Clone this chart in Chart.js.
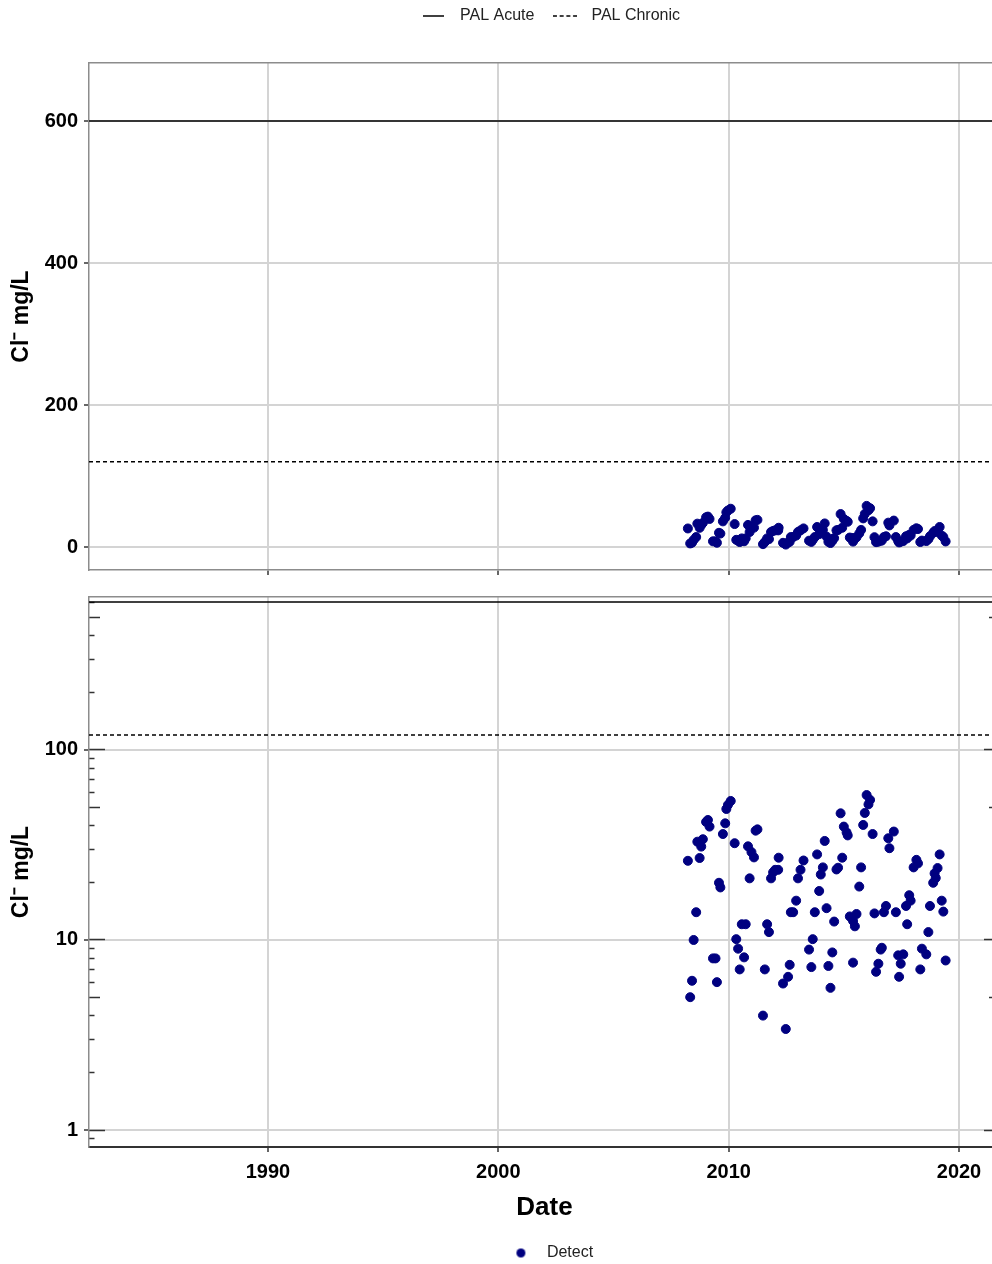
<!DOCTYPE html>
<html>
<head>
<meta charset="utf-8">
<title>Chloride concentrations</title>
<script src="https://cdn.jsdelivr.net/npm/chart.js@4/dist/chart.umd.min.js"></script>
<style>
  html, body { margin: 0; padding: 0; background: #fff; overflow: hidden; }
  #wrap { position: relative; width: 992px; height: 1264px; overflow: hidden; background: #fff; }
  #wrap canvas { position: absolute; left: 0; }
  #linearPanel { top: 0; }
  #logPanel { top: 590px; }
</style>
</head>
<body>
<div id="wrap">
  <canvas id="linearPanel" width="1010" height="590" style="width:1010px;height:590px"></canvas>
  <canvas id="logPanel" width="1010" height="674" style="width:1010px;height:674px"></canvas>
</div>
<script>
// Sampling dates (decimal years) and measured chloride, mg/L
const sampleDates = [
  2008.23, 2008.33, 2008.41, 2008.48, 2008.59, 2008.64, 2008.74, 2008.81, 2008.88, 2009.02,
  2009.10, 2009.17, 2009.32, 2009.43, 2009.49, 2009.58, 2009.64, 2009.75, 2009.85, 2009.90,
  2009.97, 2010.09, 2010.26, 2010.33, 2010.41, 2010.48, 2010.57, 2010.67, 2010.74, 2010.84,
  2010.91, 2010.99, 2011.10, 2011.17, 2011.25, 2011.49, 2011.57, 2011.67, 2011.75, 2011.84,
  2011.93, 2012.02, 2012.15, 2012.17, 2012.36, 2012.48, 2012.58, 2012.65, 2012.70, 2012.80,
  2012.93, 2013.01, 2013.12, 2013.25, 2013.49, 2013.59, 2013.65, 2013.74, 2013.84, 2013.93,
  2014.00, 2014.09, 2014.17, 2014.25, 2014.33, 2014.42, 2014.50, 2014.58, 2014.68, 2014.75,
  2014.86, 2014.93, 2015.00, 2015.12, 2015.17, 2015.26, 2015.40, 2015.40, 2015.48, 2015.55,
  2015.67, 2015.75, 2015.84, 2015.91, 2015.99, 2016.07, 2016.14, 2016.25, 2016.33, 2016.40,
  2016.50, 2016.60, 2016.65, 2016.74, 2016.83, 2016.93, 2016.98, 2017.17, 2017.26, 2017.36,
  2017.40, 2017.47, 2017.58, 2017.70, 2017.75, 2017.84, 2017.90, 2018.03, 2018.15, 2018.22,
  2018.32, 2018.39, 2018.58, 2018.67, 2018.74, 2018.88, 2018.94, 2018.99, 2019.07, 2019.16,
  2019.25, 2019.32, 2019.42
];
const chlorideMgL = [
  26.1, 5.0, 6.1, 10.0, 14.0, 32.9, 27.0, 31.0, 33.9, 41.8,
  42.8, 39.5, 8.0, 8.0, 6.0, 20.0, 18.9, 36.1, 41.1, 48.9,
  51.4, 53.9, 32.3, 10.1, 9.0, 7.0, 12.1, 8.1, 12.1, 31.1,
  21.1, 29.0, 27.2, 37.6, 38.2, 4.0, 7.0, 12.1, 11.0, 21.1,
  22.7, 23.4, 23.4, 27.1, 5.9, 3.4, 6.4, 7.4, 14.0, 14.0,
  16.1, 21.1, 23.4, 26.2, 8.9, 7.2, 10.1, 14.0, 28.2, 18.1,
  22.1, 24.1, 33.2, 14.7, 7.3, 5.6, 8.6, 12.5, 23.5, 24.0,
  46.4, 27.1, 39.5, 36.8, 35.5, 13.3, 12.6, 7.6, 11.8, 13.7,
  19.1, 24.1, 40.3, 46.6, 57.9, 51.7, 54.6, 36.1, 13.8, 6.8,
  7.5, 8.9, 9.1, 14.0, 15.1, 34.3, 30.4, 37.2, 14.0, 8.3,
  6.4, 7.5, 8.4, 15.1, 12.1, 17.2, 16.1, 24.1, 26.4, 25.3,
  7.0, 9.0, 8.4, 11.0, 15.1, 20.0, 22.4, 21.2, 23.9, 28.2,
  16.1, 14.1, 7.8
];

// Guideline levels (mg/L)
const palAcute = 600;
const palChronic = 120;

// Axis limits and tick values
const dateRange = [1982.23, 2021.78];
const yearTicks = [1990, 2000, 2010, 2020];
const linearRange = [-32.4, 681.7];
const linearTicks = [0, 200, 400, 600];
const logRange = [0.814, 638];
const logLongTicks = [1, 10, 100];
const logMidTicks = [5, 50, 500];
const logShortTicks = [0.9, 2, 3, 4, 6, 7, 8, 9, 20, 30, 40, 60, 70, 80, 90, 200, 300, 400, 600];

const FONT = "'Liberation Sans', Arial, sans-serif";
const NAVY = '#000080';
const GRID = '#d4d4d4';
const FRAME = '#8c8c8c';
const TICK = '#333333';
const yTitle = 'Cl\u207B mg/L';

const detectPoints = sampleDates.map((d, i) => ({ x: d, y: chlorideMgL[i] }));
const levelLine = v => [{ x: dateRange[0], y: v }, { x: dateRange[1], y: v }];

// scale helpers
const setTicks = values => scale => { scale.ticks = values.map(v => ({ value: v })); };
const fixWidth = w => s => { s.width = w; s.paddingTop = 0; s.paddingBottom = 0; };
const fixHeight = h => s => { s.height = h; s.paddingLeft = 0; s.paddingRight = 0; };

// small legend symbols
function lineSymbol(width, dash) {
  const c = document.createElement('canvas');
  c.width = width; c.height = 4;
  const g = c.getContext('2d');
  g.strokeStyle = '#000'; g.lineWidth = 1.5; g.setLineDash(dash);
  g.beginPath(); g.moveTo(0, 2); g.lineTo(width, 2); g.stroke();
  return c;
}
function dotSymbol(r) {
  const c = document.createElement('canvas');
  c.width = c.height = Math.ceil(2 * r + 2);
  const g = c.getContext('2d');
  g.fillStyle = NAVY;
  g.beginPath(); g.arc(c.width / 2, c.height / 2, r, 0, Math.PI * 2); g.fill();
  return c;
}

// reserves a fixed band for the legend and places it inside that band
function legendBand(height, box) {
  return {
    id: 'legendBand',
    beforeInit(chart) {
      const fit = chart.legend.fit;
      chart.legend.fit = function () { fit.call(this); this.height = height; };
    },
    afterLayout(chart) {
      const lg = chart.legend;
      Object.assign(lg, box);
      lg.width = box.right - box.left;
      lg.height = box.bottom - box.top;
    }
  };
}

const tickFont = { family: FONT, size: 20, weight: 'bold' };
const titleFont = { family: FONT, size: 23, weight: 'bold' };
const legendFont = { family: FONT, size: 16 };

function frameAxis(position) {
  return {
    type: 'linear', position, min: dateRange[0], max: dateRange[1], weight: 0,
    afterBuildTicks: setTicks(yearTicks), afterFit: fixHeight(0),
    grid: { display: false, drawTicks: false },
    border: { display: true, color: FRAME, width: 1.5 },
    ticks: { display: false }
  };
}
function logTickAxis(position, values, length) {
  return {
    type: 'logarithmic', position, min: logRange[0], max: logRange[1], bounds: 'data', weight: 0,
    afterBuildTicks: setTicks(values), afterFit: fixWidth(0),
    grid: { drawOnChartArea: false, drawTicks: true, tickLength: -length, tickColor: TICK, tickWidth: 1.5 },
    border: { display: false },
    ticks: { display: false }
  };
}

const pointStyle = { pointRadius: 4.5, pointHoverRadius: 4.5, pointBorderWidth: 1, backgroundColor: NAVY, borderColor: NAVY };
const acuteStyle = { borderColor: '#000', borderWidth: 1.5, pointRadius: 0, fill: false };
const chronicStyle = { borderColor: '#000', borderWidth: 1.5, borderDash: [4, 3], pointRadius: 0, fill: false };

// ---- linear panel ----
new Chart(document.getElementById('linearPanel'), {
  data: {
    datasets: [
      Object.assign({ type: 'scatter', label: 'Detect', data: detectPoints, order: 0 }, pointStyle),
      Object.assign({ type: 'line', label: 'PAL Acute', data: levelLine(palAcute), order: 1 }, acuteStyle),
      Object.assign({ type: 'line', label: 'PAL Chronic', data: levelLine(palChronic), order: 1 }, chronicStyle)
    ]
  },
  options: {
    responsive: false, animation: false, devicePixelRatio: 1,
    layout: { padding: { left: 0, right: 10, top: 0, bottom: 0 } },
    plugins: {
      tooltip: { enabled: false },
      legend: {
        position: 'top',
        labels: {
          usePointStyle: true, pointStyleWidth: 37, padding: 12, color: '#222', font: legendFont,
          generateLabels: () => [
            { text: 'PAL Acute', pointStyle: lineSymbol(21, []), fontColor: '#222', lineWidth: 0, hidden: false, datasetIndex: 1 },
            { text: 'PAL Chronic', pointStyle: lineSymbol(24, [4, 2.7]), fontColor: '#222', lineWidth: 0, hidden: false, datasetIndex: 2 }
          ]
        }
      }
    },
    scales: {
      x: {
        type: 'linear', position: 'bottom', min: dateRange[0], max: dateRange[1], weight: 0,
        afterBuildTicks: setTicks(yearTicks), afterFit: fixHeight(20),
        grid: { color: GRID, lineWidth: 2, tickLength: 5, tickColor: TICK, tickWidth: 1.5 },
        border: { display: true, color: FRAME, width: 1.5 },
        ticks: { display: false }
      },
      xTop: frameAxis('top'),
      y: {
        type: 'linear', position: 'left', min: linearRange[0], max: linearRange[1], bounds: 'data', weight: 1,
        afterBuildTicks: setTicks(linearTicks), afterFit: fixWidth(89),
        grid: { color: GRID, lineWidth: 2, tickLength: 5, tickColor: TICK, tickWidth: 1.5 },
        border: { display: true, color: FRAME, width: 1.5 },
        ticks: { color: '#000', padding: 6, autoSkip: false, font: tickFont, callback: v => String(v) },
        title: { display: true, text: yTitle, color: '#000', font: titleFont, padding: { top: 8, bottom: 0 } }
      }
    }
  },
  plugins: [legendBand(63, { left: 95, right: 1000, top: -4, bottom: 59 })]
});

// ---- logarithmic panel ----
new Chart(document.getElementById('logPanel'), {
  data: {
    datasets: [
      Object.assign({ type: 'scatter', label: 'Detect', data: detectPoints, order: 0 }, pointStyle),
      Object.assign({ type: 'line', label: 'PAL Acute', data: levelLine(palAcute), order: 1 }, acuteStyle),
      Object.assign({ type: 'line', label: 'PAL Chronic', data: levelLine(palChronic), order: 1 }, chronicStyle)
    ]
  },
  options: {
    responsive: false, animation: false, devicePixelRatio: 1,
    layout: { padding: { left: 0, right: 10, top: 7, bottom: 0 } },
    plugins: {
      tooltip: { enabled: false },
      legend: {
        position: 'bottom',
        labels: {
          usePointStyle: true, pointStyleWidth: 36, padding: 10, color: '#222', font: legendFont,
          generateLabels: () => [
            { text: 'Detect', pointStyle: dotSymbol(4.5), fontColor: '#222', lineWidth: 0, hidden: false, datasetIndex: 0 }
          ]
        }
      }
    },
    scales: {
      x: {
        type: 'linear', position: 'bottom', min: dateRange[0], max: dateRange[1], weight: 0,
        afterBuildTicks: setTicks(yearTicks), afterFit: fixHeight(83),
        grid: { color: GRID, lineWidth: 2, tickLength: 5, tickColor: TICK, tickWidth: 1.5 },
        border: { display: true, color: '#333', width: 2 },
        ticks: { color: '#000', padding: 8, autoSkip: false, maxRotation: 0, font: tickFont, callback: v => String(v) },
        title: { display: true, text: 'Date', color: '#000', font: { family: FONT, size: 26, weight: 'bold' }, padding: { top: 0, bottom: 7 } }
      },
      xTop: frameAxis('top'),
      y: {
        type: 'logarithmic', position: 'left', min: logRange[0], max: logRange[1], bounds: 'data', weight: 1,
        afterBuildTicks: setTicks(logLongTicks), afterFit: fixWidth(89),
        grid: { color: GRID, lineWidth: 2, tickLength: 5, tickColor: TICK, tickWidth: 1.5 },
        border: { display: true, color: FRAME, width: 1.5 },
        ticks: { color: '#000', padding: 6, autoSkip: false, font: tickFont, callback: v => String(v) },
        title: { display: true, text: yTitle, color: '#000', font: titleFont, padding: { top: 8, bottom: 0 } }
      },
      yLongL: logTickAxis('left', logLongTicks, 16),
      yMidL: logTickAxis('left', logMidTicks, 11),
      yShortL: logTickAxis('left', logShortTicks, 5.5),
      yLongR: logTickAxis('right', logLongTicks, 16),
      yMidR: logTickAxis('right', logMidTicks, 11),
      yShortR: logTickAxis('right', logShortTicks, 5.5)
    }
  },
  plugins: [legendBand(34, { left: 96, right: 1000, top: 645, bottom: 674 })]
});
</script>
</body>
</html>
